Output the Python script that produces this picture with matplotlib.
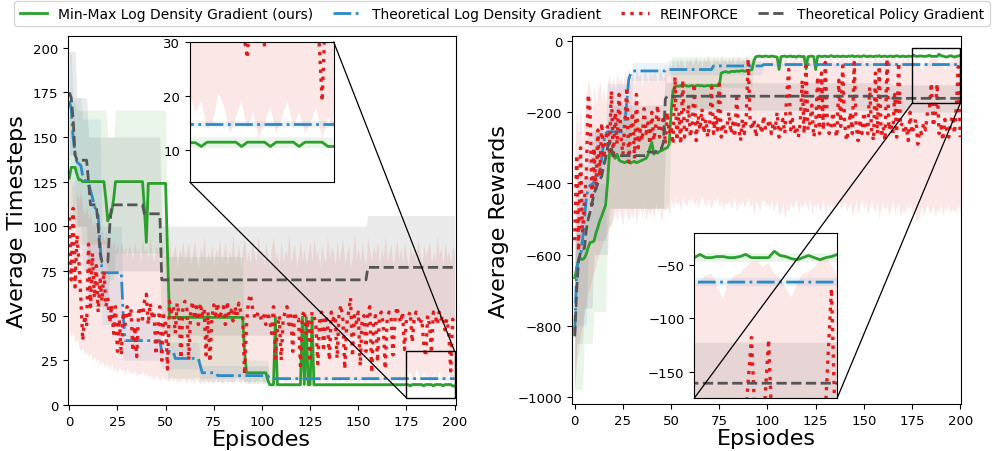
import numpy as np
import matplotlib
matplotlib.use('Agg')
import matplotlib.pyplot as plt
from matplotlib.patches import Rectangle, ConnectionPatch
from matplotlib.lines import Line2D


def rl(pairs):
    # run-length decode: [(value, count), ...]
    return np.concatenate([np.full(n, v, dtype=float) for v, n in pairs])


def rl_band(rows):
    lo = rl([(a, n) for a, b, n in rows])
    hi = rl([(b, n) for a, b, n in rows])
    return lo, hi


episodes = np.arange(201)

# ---------------- left panel: average timesteps ----------------
green_l = rl([(127, 1), (133, 3), (129, 1), (126, 2), (125, 12), (115, 1), (103, 1), (106, 1), (108, 1),
              (115, 1), (125, 15), (110, 1), (91, 1), (124, 10), (85, 1), (49, 39), (30, 1), (18, 11),
              (14, 1), (11.3, 3), (49, 1), (11.3, 13), (49, 1), (11.5, 1), (49, 1), (11.3, 2), (49, 1),
              (11.3, 50), (10.6, 1), (11.4, 6), (10.6, 1), (11.4, 4), (10.6, 1), (11.4, 4), (10.6, 1),
              (11.4, 4), (10.6, 2)])
blue_l = rl([(170, 1), (166, 1), (150, 1), (140, 1), (136, 1), (135, 1), (134, 1), (128, 1), (126, 1),
             (125, 1), (124, 1), (120, 1), (116, 1), (112, 1), (108, 1), (106, 1), (90, 1), (74, 11),
             (50, 1), (36, 19), (30, 7), (26, 13), (22, 1), (18, 8), (16.4, 27), (14.7, 97)])
gray_l = rl([(175, 1), (172, 1), (160, 1), (140, 1), (137, 6), (125, 1), (112, 4), (100, 1), (85, 1),
             (80, 4), (100, 1), (112, 17), (107, 9), (70, 107), (77, 46)])
red_l = [105, 70, 110, 66, 95, 80, 60, 36, 50, 44,
         90, 55, 85, 60, 78, 52, 70, 58, 75, 55,
         60, 46, 56, 40, 55, 30, 48, 28, 52, 45,
         55, 48, 54, 30, 44, 27, 52, 55, 48, 58,
         62, 45, 57, 50, 52, 28, 44, 55, 25, 50,
         45, 20, 58, 52, 55, 40, 57, 50, 26, 55,
         58, 55, 25, 52, 58, 48, 55, 45, 57, 50,
         54, 28, 52, 24, 48, 56, 50, 57, 48, 52,
         55, 45, 58, 50, 53, 47, 55, 50, 57, 52,
         50, 17, 45, 58, 62, 55, 50, 48, 52, 50,
         47, 50, 45, 52, 48, 40, 55, 26, 42, 50,
         25, 48, 52, 55, 45, 50, 30, 52, 47, 48,
         22, 50, 53, 40, 48, 24, 52, 50, 45, 23,
         48, 52, 30, 50, 47, 25, 52, 48, 50, 26,
         50, 56, 48, 20, 45, 52, 60, 27, 50, 46,
         52, 22, 48, 50, 30, 52, 55, 18, 47, 50,
         24, 50, 52, 45, 20, 48, 52, 50, 28, 47,
         55, 50, 46, 52, 31, 48, 50, 52, 35, 48,
         52, 50, 45, 48, 34, 27, 50, 45, 29, 52,
         50, 45, 52, 48, 50, 42, 48, 40, 19, 48,
         45]
red_hi_l = [130, 126, 122, 128, 118, 115, 120, 110, 106, 112, 104, 108, 100, 103, 97, 101, 95, 99, 92, 96,
            90, 94, 88, 93, 86, 91, 84, 92, 85, 89, 83, 90, 86, 82, 91, 84, 88, 80, 93, 85,
            88, 82, 95, 84, 80, 90, 86, 79, 92, 83, 87, 78, 94, 81, 86, 90, 77, 88, 84, 92,
            80, 87, 91, 78, 85, 93, 82, 76, 89, 84, 95, 79, 86, 81, 90, 77, 88, 83, 94, 80,
            85, 91, 78, 87, 82, 96, 79, 84, 90, 77, 88, 93, 81, 86, 78, 92, 84, 80, 95, 83,
            87, 79, 91, 84, 76, 89, 94, 82, 85, 78, 92, 80, 87, 83, 96, 79, 86, 90, 77, 84,
            93, 81, 88, 78, 85, 91, 80, 94, 83, 87, 77, 90, 84, 79, 95, 82, 88, 86, 78, 92,
            81, 87, 93, 79, 85, 90, 77, 84, 96, 82, 88, 80, 91, 83, 78, 94, 86, 81, 89, 84,
            92, 79, 87, 83, 95, 80, 86, 90, 78, 85, 93, 82, 88, 79, 91, 84, 77, 89, 83, 87,
            80, 94, 85, 78, 90, 83, 87, 92, 79, 86, 81, 95, 84, 88, 78, 91, 83, 86, 80, 89,
            85]
red_lo_l = [42, 38, 40, 35, 37, 33, 30, 32, 28, 30, 27, 29, 25, 27, 24, 26, 22, 25, 21, 23,
            22, 20, 23, 19, 21, 18, 22, 19, 20, 17, 21, 18, 19, 17, 20, 16, 18, 17, 19, 16,
            18, 15, 17, 16, 14, 17, 15, 13, 16, 14, 15, 13, 14, 16, 13, 15, 12, 14, 13, 15,
            14, 12, 15, 13, 14, 12, 16, 13, 12, 14, 13, 15, 12, 14, 13, 12, 15, 13, 14, 12,
            13, 15, 12, 14, 13, 12, 14, 16, 13, 12, 15, 13, 14, 12, 13, 15, 12, 14, 13, 16,
            14, 12, 13, 15, 12, 14, 13, 16, 12, 13, 15, 14, 12, 13, 16, 12, 14, 13, 15, 12,
            13, 16, 12, 14, 13, 15, 12, 14, 16, 13, 12, 15, 13, 14, 12, 16, 13, 14, 12, 15,
            13, 14, 16, 12, 13, 15, 12, 14, 13, 16, 12, 14, 15, 13, 12, 16, 13, 14, 12, 15,
            14, 12, 15, 13, 16, 12, 14, 13, 15, 12, 16, 13, 14, 12, 15, 20, 17, 19, 14, 15,
            20.5, 18, 13, 16, 19, 14, 17, 12, 15, 18, 13, 16, 19, 14, 17, 13, 15, 18, 12, 16,
            14]
green_band_l = rl_band([(105, 170, 4), (90, 165, 16), (70, 150, 4), (85, 165, 27), (15, 83, 40),
                        (12, 25, 13), (10.3, 12.3, 97)])
blue_band_l = rl_band([(130, 198, 1), (128, 196, 1), (100, 172, 5), (75, 160, 10), (45, 100, 11),
                       (25, 48, 20), (20, 35, 20), (13, 22, 36), (14.1, 15.3, 97)])
gray_band_l = rl_band([(140, 198, 4), (100, 172, 6), (55, 150, 11), (75, 150, 27), (39, 100, 107),
                       (48, 106, 46)])

# ---------------- right panel: average rewards ----------------
green_r = [-665, -640, -615, -612, -614, -610, -598, -580, -566, -565,
           -562, -540, -524, -505, -492, -476, -462, -400, -318, -305,
           -320, -330, -318, -335, -338, -340, -342, -338, -340, -343,
           -340, -338, -342, -340, -337, -335, -332, -330, -320, -300,
           -285, -318, -312, -315, -310, -308, -305, -302, -300, -290,
           -200, -140, -128, -126, -127, -125, -126, -124, -126, -127,
           -126, -125, -127, -126, -124, -126, -125, -127, -126, -125,
           -126, -124, -126, -125, -126, -125, -90, -88, -86, -87,
           -88, -86, -85, -86, -84, -85, -84, -83, -85, -84,
           -83, -82, -80, -55, -44, -43, -42, -44, -43, -42,
           -43, -44, -42, -43, -44, -45, -80, -44, -43, -42,
           -44, -43, -42, -44, -43, -45, -42, -43, -44, -43,
           -78, -44, -43, -42, -44, -80, -43, -42, -44, -43,
           -42, -44, -43, -41, -43, -44, -42, -43, -44, -42,
           -43, -44, -42, -43, -41, -44, -43, -42, -44, -43,
           -41, -43, -44, -42, -43, -44, -42, -43, -41, -44,
           -43, -42, -44, -43, -42, -44, -43, -41, -43, -44,
           -42, -43, -44, -42, -43, -43, -40, -43, -43, -42,
           -42, -43, -43, -42, -40, -43, -43, -43, -43, -37,
           -41, -42, -44, -45, -43, -41, -43, -45, -43, -42,
           -40]
blue_r = rl([(-820, 1), (-640, 1), (-615, 1), (-610, 1), (-560, 1), (-505, 1), (-440, 1), (-416, 1),
             (-405, 1), (-403, 1), (-395, 1), (-380, 1), (-378, 1), (-375, 1), (-330, 1), (-285, 1),
             (-262, 1), (-255, 9), (-230, 1), (-173, 1), (-108, 1), (-92, 1), (-84, 18), (-80, 24),
             (-70, 26), (-66, 103)])
gray_r = rl([(-830, 1), (-700, 1), (-615, 1), (-595, 1), (-585, 1), (-583, 1), (-530, 1), (-500, 1),
             (-480, 1), (-454, 1), (-430, 1), (-414, 1), (-400, 1), (-390, 1), (-380, 1), (-350, 1),
             (-330, 1), (-300, 1), (-284, 1), (-302, 1), (-322, 18), (-312, 5), (-302, 3), (-284, 1),
             (-163, 1), (-155, 117), (-161, 36)])
red_r = [-560, -320, -590, -300, -540, -450, -380, -150, -200, -460,
         -300, -420, -250, -380, -230, -330, -280, -240, -310, -140,
         -330, -200, -290, -150, -270, -320, -230, -130, -340, -250,
         -200, -330, -150, -300, -250, -280, -190, -260, -230, -290,
         -200, -280, -240, -180, -270, -250, -210, -290, -200, -260,
         -240, -290, -100, -280, -200, -290, -110, -270, -250, -180,
         -270, -230, -120, -280, -210, -250, -190, -260, -220, -270,
         -230, -130, -260, -210, -250, -110, -270, -230, -260, -240,
         -200, -260, -230, -270, -160, -240, -280, -220, -260, -210,
         -50, -230, -250, -220, -270, -240, -230, -260, -210, -250,
         -240, -220, -260, -230, -250, -200, -270, -240, -220, -260,
         -150, -80, -250, -220, -260, -240, -270, -230, -110, -260,
         -70, -250, -230, -180, -270, -240, -100, -260, -90, -250,
         -60, -220, -260, -240, -200, -250, -270, -110, -240, -70,
         -230, -280, -250, -200, -260, -60, -240, -280, -220, -260,
         -200, -240, -260, -130, -250, -280, -90, -260, -70, -270,
         -240, -280, -50, -250, -230, -260, -150, -270, -60, -240,
         -230, -260, -240, -280, -200, -260, -240, -220, -290, -250,
         -260, -230, -250, -200, -190, -118, -240, -210, -120, -260,
         -240, -280, -220, -250, -270, -230, -210, -260, -180, -72,
         -270]
red_hi_r = [-310, -190, -260, -180, -290, -200, -150, -110, -140, -210, -120, -180, -140, -110, -170, -130, -175, -115, -95, -135,
            -100, -140, -85, -120, -95, -130, -80, -110, -70, -105, -85, -125, -75, -100, -90, -130, -70, -95, -115, -80,
            -105, -75, -95, -120, -70, -90, -110, -65, -85, -60, -75, -55, -80, -50, -70, -45, -65, -85, -50, -60,
            -45, -70, -55, -40, -65, -50, -75, -45, -60, -38, -55, -70, -42, -58, -48, -65, -40, -55, -50, -62,
            -45, -58, -40, -66, -50, -42, -60, -48, -55, -38, -52, -64, -44, -50, -40, -58, -47, -62, -42, -53,
            -48, -60, -40, -55, -45, -68, -42, -52, -58, -40, -50, -62, -44, -56, -46, -38, -60, -50, -42, -65,
            -47, -55, -40, -60, -45, -52, -66, -42, -50, -57, -44, -61, -40, -53, -48, -64, -43, -56, -50, -39,
            -58, -46, -62, -41, -54, -49, -67, -44, -52, -40, -60, -47, -55, -43, -63, -50, -41, -57, -45, -60,
            -42, -55, -48, -65, -44, -52, -40, -59, -47, -62, -43, -56, -50, -41, -58,
            -70, -64, -60, -58, -70, -82, -66, -60, -58, -52, -47, -46, -52, -48, -58, -62, -72, -80, -68, -58,
            -56, -52, -46, -43, -50, -60]
red_lo_r = [-980, -900, -870, -820, -800, -760, -740, -700, -690, -660, -650, -630, -610, -590, -580, -560, -550, -540, -525, -510,
            -500, -480, -510, -470, -495, -520, -465, -490, -505, -475, -500, -460, -515, -480, -470, -495, -460, -505, -475, -490,
            -470, -500, -455, -485, -465, -510, -470, -480, -455, -495, -445, -470, -440, -460, -450, -475, -440, -455, -465, -445,
            -450, -440, -460, -445, -470, -450, -438, -455, -465, -442, -458, -470, -445, -452, -440, -465, -448, -475, -450, -460,
            -445, -470, -455, -440, -480, -450, -462, -445, -470, -452, -440, -468, -455, -490, -447, -460, -475, -450, -445, -465,
            -455, -470, -445, -480, -460, -450, -490, -475, -455, -500, -465, -480, -450, -470, -460, -445, -485, -455, -470, -450,
            -460, -475, -445, -490, -455, -470, -450, -480, -465, -445, -495, -460, -470, -450, -485, -455, -465, -445, -475, -460,
            -450, -480, -465, -455, -495, -470, -450, -485, -460, -445, -475, -455, -490, -465, -450, -470, -480, -455, -500, -465,
            -455, -475, -460, -490, -470, -450, -485, -465, -455, -495, -470, -480, -460, -475, -455, -490, -470, -500, -510, -480,
            -465, -490, -470, -455, -485, -475, -460, -495, -470, -480, -455, -490, -465, -475, -460, -485, -470, -480, -472, -460,
            -485]
green_band_r = rl_band([(-980, -560, 5), (-850, -480, 5), (-760, -400, 7), (-520, -220, 3), (-470, -220, 30),
                        (-190, -45, 26), (-130, -45, 17), (-47, -39, 108)])
blue_band_r = rl_band([(-990, -640, 1), (-800, -380, 6), (-560, -250, 10), (-330, -120, 13), (-110, -60, 18),
                       (-95, -55, 50), (-70, -62, 103)])
gray_band_r = rl_band([(-980, -680, 1), (-850, -450, 4), (-750, -380, 5), (-600, -250, 8), (-470, -180, 29),
                       (-300, -100, 1), (-195, -117, 117), (-200, -123, 36)])

C_GREEN = '#2ca02c'
C_BLUE = '#2b8bc6'
C_RED = '#e41a1c'
C_GRAY = '#555555'
labels = ['Min-Max Log Density Gradient (ours)', 'Theoretical Log Density Gradient',
          'REINFORCE', 'Theoretical Policy Gradient']


def draw(ax, green, blue, red, gray, gb, bb, rb, kb):
    ax.fill_between(episodes, gb[0], gb[1], color=C_GREEN, alpha=0.1, lw=0)
    ax.fill_between(episodes, bb[0], bb[1], color=C_BLUE, alpha=0.1, lw=0)
    ax.fill_between(episodes, rb[0], rb[1], color=C_RED, alpha=0.1, lw=0)
    ax.fill_between(episodes, kb[0], kb[1], color=C_GRAY, alpha=0.12, lw=0)
    ax.plot(episodes, green, color=C_GREEN, lw=2, ls='-')
    ax.plot(episodes, blue, color=C_BLUE, lw=2, ls='-.')
    ax.plot(episodes, red, color=C_RED, lw=2.4, ls=':')
    ax.plot(episodes, gray, color=C_GRAY, lw=2, ls='--')


fig = plt.figure(figsize=(9.99, 4.52), dpi=100)
ax1 = fig.add_axes([0.068, 0.102, 0.388, 0.816])
ax2 = fig.add_axes([0.5726, 0.104, 0.389, 0.814])

left = (green_l, blue_l, red_l, gray_l, green_band_l, blue_band_l, (red_lo_l, red_hi_l), gray_band_l)
right = (green_r, blue_r, red_r, gray_r, green_band_r, blue_band_r, (red_lo_r, red_hi_r), gray_band_r)

draw(ax1, *left)
ax1.set_xlim(-0.7, 200.5)
ax1.set_ylim(0, 206.5)
ax1.set_xticks(range(0, 201, 25))
ax1.set_yticks(range(0, 201, 25))
ax1.set_xlabel('Episodes', fontsize=16, labelpad=1)
ax1.set_ylabel('Average Timesteps', fontsize=16, labelpad=4)

draw(ax2, *right)
ax2.set_xlim(-1.4, 200.2)
ax2.set_ylim(-1020, 14)
ax2.set_xticks(range(0, 201, 25))
ax2.set_yticks(range(-1000, 1, 200))
ax2.set_xlabel('Epsiodes', fontsize=16, labelpad=1)
ax2.set_ylabel('Average Rewards', fontsize=16, labelpad=6)

for ax in (ax1, ax2):
    ax.tick_params(labelsize=9.5)

# zoomed insets
ins1 = fig.add_axes([0.190, 0.595, 0.144, 0.310])
draw(ins1, *left)
ins1.set_xlim(175, 200)
ins1.set_ylim(4, 30)
ins1.set_yticks([10, 20, 30])

ins2 = fig.add_axes([0.695, 0.117, 0.143, 0.365])
draw(ins2, *right)
ins2.set_xlim(175, 200)
ins2.set_ylim(-175, -20)
ins2.set_yticks([-50, -100, -150])

for ins in (ins1, ins2):
    ins.set_xticks([])
    ins.tick_params(labelsize=9.5)


def zoom_marks(ax, ins, corners):
    x0, x1 = ins.get_xlim()
    y0, y1 = ins.get_ylim()
    ax.add_patch(Rectangle((x0, y0), x1 - x0, y1 - y0, fill=False, ec='black', lw=1, zorder=10))
    for c in corners:
        fig.add_artist(ConnectionPatch(xyA=c, coordsA=ins.transData, xyB=c, coordsB=ax.transData,
                                       color='black', lw=0.9))


zoom_marks(ax1, ins1, [(175, 4), (200, 30)])
zoom_marks(ax2, ins2, [(175, -175), (200, -175)])

handles = [Line2D([], [], color=C_GREEN, lw=2, ls='-'),
           Line2D([], [], color=C_BLUE, lw=2, ls='-.'),
           Line2D([], [], color=C_RED, lw=2.4, ls=':'),
           Line2D([], [], color=C_GRAY, lw=2, ls='--')]
fig.legend(handles, labels, loc='lower left', ncol=4, mode='expand',
           bbox_to_anchor=(0.014, 0.94, 0.977, 0.055), fontsize=10, handlelength=2,
           borderaxespad=0.0, fancybox=True)

fig.savefig('out.png', dpi=100)
